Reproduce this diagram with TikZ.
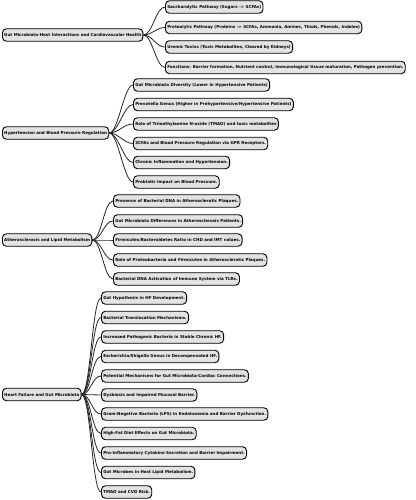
\documentclass[tikz,border=0pt]{standalone}
\usepackage{fontspec}
\setmainfont{DejaVu Sans}
\usepackage{tikz}
\usetikzlibrary{positioning}

\tikzset{
  topic/.style={draw=black, line width=0.9pt, fill=black!11, rounded corners=4pt,
    anchor=west, inner xsep=1.8pt, inner ysep=0pt, minimum height=12.5pt,
    font=\fontsize{4.05}{5}\selectfont\bfseries},
  link/.style={line width=0.8pt, black!85}
}

\begin{document}
\begin{tikzpicture}[x=1pt,y=-1pt]
        \useasboundingbox (0,0) rectangle (415,500);
        % Gut microbiota - host
        \node[topic] (gut) at (2,35) {Gut Microbiota-Host Interactions and Cardiovascular Health};
        \node[topic] (gut1) at (165,7) {Saccharolytic Pathway (Sugars -> SCFAs)};
        \node[topic] (gut2) at (165,27.5) {Proteolytic Pathway (Proteins -> SCFAs, Ammonia, Amines, Thiols, Phenols, Indoles)};
        \node[topic] (gut3) at (165,47) {Uremic Toxins (Toxic Metabolites, Cleared by Kidneys)};
        \node[topic] (gut4) at (165,67.5) {Functions: Barrier formation, Nutrient control, Immunological tissue maturation, Pathogen prevention.};
        % Hypertension
        \node[topic] (hyp) at (2,133) {Hypertension and Blood Pressure Regulation};
        \node[topic] (hyp1) at (133,85) {Gut Microbiota Diversity (Lower in Hypertensive Patients)};
        \node[topic] (hyp2) at (133,104.5) {Prevotella Genus (Higher in Prehypertensive/Hypertensive Patients)};
        \node[topic] (hyp3) at (133,124) {Role of Trimethylamine N-oxide (TMAO) and toxic metabolites};
        \node[topic] (hyp4) at (133,143.5) {SCFAs and Blood Pressure Regulation via GPR Receptors.};
        \node[topic] (hyp5) at (133,162.5) {Chronic Inflammation and Hypertension.};
        \node[topic] (hyp6) at (133,182) {Probiotic Impact on Blood Pressure.};
        % Atherosclerosis
        \node[topic] (ath) at (2,240) {Atherosclerosis and Lipid Metabolism};
        \node[topic] (ath1) at (113,201) {Presence of Bacterial DNA in Atherosclerotic Plaques.};
        \node[topic] (ath2) at (113,221) {Gut Microbiota Differences in Atherosclerosis Patients.};
        \node[topic] (ath3) at (113,240) {Firmicutes/Bacteroidetes Ratio in CHD and IMT values.};
        \node[topic] (ath4) at (113,260) {Role of Proteobacteria and Firmicutes in Atherosclerotic Plaques.};
        \node[topic] (ath5) at (113,279) {Bacterial DNA Activation of Immune System via TLRs.};
        % Heart failure
        \node[topic] (hf) at (2,394.5) {Heart Failure and Gut Microbiota};
        \node[topic] (hf1) at (101,298) {Gut Hypothesis in HF Development.};
        \node[topic] (hf2) at (101,317.5) {Bacterial Translocation Mechanisms.};
        \node[topic] (hf3) at (101,337) {Increased Pathogenic Bacteria in Stable Chronic HF.};
        \node[topic] (hf4) at (101,356.5) {Escherichia/Shigella Genus in Decompensated HF.};
        \node[topic] (hf5) at (101,376) {Potential Mechanisms for Gut Microbiota-Cardiac Connections.};
        \node[topic] (hf6) at (101,395) {Dysbiosis and Impaired Mucosal Barrier.};
        \node[topic] (hf7) at (101,414) {Gram-Negative Bacteria (LPS) in Endotoxemia and Barrier Dysfunction.};
        \node[topic] (hf8) at (101,433.5) {High-Fat Diet Effects on Gut Microbiota.};
        \node[topic] (hf9) at (101,453) {Pro-Inflammatory Cytokine Secretion and Barrier Impairment.};
        \node[topic] (hf10) at (101,472.5) {Gut Microbes in Host Lipid Metabolism.};
        \node[topic] (hf11) at (101,492) {TMAO and CVD Risk.};
        % Links
        \draw[link] (gut.east) .. controls +(9,0) and +(-9,0) .. (gut1.west);
        \draw[link] (gut.east) .. controls +(9,0) and +(-9,0) .. (gut2.west);
        \draw[link] (gut.east) .. controls +(9,0) and +(-9,0) .. (gut3.west);
        \draw[link] (gut.east) .. controls +(9,0) and +(-9,0) .. (gut4.west);
        \draw[link] (hyp.east) .. controls +(9,0) and +(-9,0) .. (hyp1.west);
        \draw[link] (hyp.east) .. controls +(9,0) and +(-9,0) .. (hyp2.west);
        \draw[link] (hyp.east) .. controls +(9,0) and +(-9,0) .. (hyp3.west);
        \draw[link] (hyp.east) .. controls +(9,0) and +(-9,0) .. (hyp4.west);
        \draw[link] (hyp.east) .. controls +(9,0) and +(-9,0) .. (hyp5.west);
        \draw[link] (hyp.east) .. controls +(9,0) and +(-9,0) .. (hyp6.west);
        \draw[link] (ath.east) .. controls +(9,0) and +(-9,0) .. (ath1.west);
        \draw[link] (ath.east) .. controls +(9,0) and +(-9,0) .. (ath2.west);
        \draw[link] (ath.east) .. controls +(9,0) and +(-9,0) .. (ath3.west);
        \draw[link] (ath.east) .. controls +(9,0) and +(-9,0) .. (ath4.west);
        \draw[link] (ath.east) .. controls +(9,0) and +(-9,0) .. (ath5.west);
        \draw[link] (hf.east) .. controls +(9,0) and +(-9,0) .. (hf1.west);
        \draw[link] (hf.east) .. controls +(9,0) and +(-9,0) .. (hf2.west);
        \draw[link] (hf.east) .. controls +(9,0) and +(-9,0) .. (hf3.west);
        \draw[link] (hf.east) .. controls +(9,0) and +(-9,0) .. (hf4.west);
        \draw[link] (hf.east) .. controls +(9,0) and +(-9,0) .. (hf5.west);
        \draw[link] (hf.east) .. controls +(9,0) and +(-9,0) .. (hf6.west);
        \draw[link] (hf.east) .. controls +(9,0) and +(-9,0) .. (hf7.west);
        \draw[link] (hf.east) .. controls +(9,0) and +(-9,0) .. (hf8.west);
        \draw[link] (hf.east) .. controls +(9,0) and +(-9,0) .. (hf9.west);
        \draw[link] (hf.east) .. controls +(9,0) and +(-9,0) .. (hf10.west);
        \draw[link] (hf.east) .. controls +(9,0) and +(-9,0) .. (hf11.west);
\end{tikzpicture}
\end{document}
